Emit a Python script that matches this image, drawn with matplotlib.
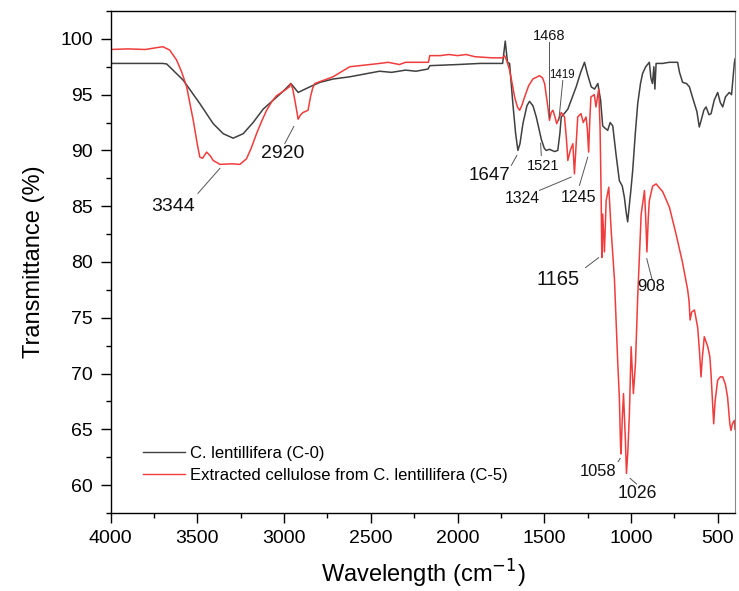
import matplotlib
matplotlib.use("Agg")
import matplotlib.pyplot as plt
from matplotlib.ticker import MultipleLocator

plt.rcParams['font.family'] = ['Liberation Sans', 'DejaVu Sans']

# C. lentillifera (C-0)
c0_wn = [4000, 3900, 3800, 3700, 3677, 3582, 3486, 3409, 3351, 3294, 3236, 3179, 3121, 3063,
         3006, 2961, 2919, 2852, 2794, 2718, 2622, 2450, 2380, 2300, 2240, 2170, 2160, 2000,
         1870, 1740, 1725, 1712, 1700, 1681, 1665, 1652, 1640, 1623, 1600, 1585, 1565, 1546,
         1517, 1500, 1489, 1470, 1440, 1422, 1410, 1402, 1385, 1364, 1340, 1316, 1290, 1268,
         1250, 1229, 1210, 1191, 1175, 1163, 1150, 1134, 1120, 1105, 1085, 1067, 1050, 1038,
         1028, 1019, 1010, 1000, 990, 975, 961, 945, 933, 915, 894, 885, 876, 868, 862, 855,
         817, 780, 740, 731, 720, 702, 680, 663, 640, 620, 606, 590, 580, 567, 550, 538, 520,
         500, 485, 471, 455, 433, 420, 404, 400]
c0_t = [97.8, 97.8, 97.8, 97.8, 97.75, 96.3, 94.2, 92.4, 91.5, 91.1, 91.5, 92.5, 93.7, 94.5,
        95.3, 96.0, 95.2, 95.7, 96.1, 96.4, 96.6, 97.1, 97.0, 97.2, 97.1, 97.3, 97.6, 97.7,
        97.8, 97.8, 99.8, 97.9, 97.8, 94.2, 91.5, 90.0, 90.6, 92.4, 94.0, 94.4, 94.0, 93.0,
        91.0, 90.2, 90.0, 90.1, 89.9, 90.0, 91.5, 93.0, 93.3, 93.7, 94.7, 95.7, 97.0, 97.9,
        96.8, 95.7, 95.5, 96.0, 94.5, 92.2, 92.0, 91.8, 92.5, 92.2, 89.5, 87.3, 86.8, 85.8,
        84.5, 83.6, 85.0, 86.5, 88.2, 91.5, 94.2, 96.0, 96.9, 97.5, 97.9, 96.5, 96.0, 97.5,
        95.5, 97.8, 97.8, 97.9, 97.9, 97.9, 97.0, 96.1, 96.0, 95.7, 94.5, 93.5, 92.1, 93.0,
        93.6, 93.9, 93.2, 93.3, 94.5, 95.2, 94.3, 93.9, 94.8, 95.2, 95.0, 97.8, 98.2]

# Extracted cellulose from C. lentillifera (C-5)
c5_wn = [4000, 3900, 3800, 3720, 3700, 3660, 3620, 3590, 3562, 3524, 3500, 3486, 3470, 3447,
         3425, 3409, 3370, 3300, 3255, 3217, 3190, 3159, 3130, 3101, 3070, 3044, 2996, 2970,
         2963, 2950, 2938, 2919, 2905, 2891, 2862, 2848, 2835, 2823, 2770, 2718, 2622, 2449,
         2400, 2335, 2300, 2168, 2160, 2100, 2050, 2000, 1950, 1900, 1800, 1740, 1729, 1715,
         1700, 1685, 1671, 1655, 1642, 1630, 1613, 1590, 1566, 1527, 1510, 1498, 1480, 1470,
         1460, 1450, 1438, 1428, 1415, 1402, 1383, 1372, 1364, 1350, 1335, 1326, 1316, 1307,
         1288, 1275, 1259, 1252, 1244, 1238, 1231, 1211, 1202, 1186, 1178, 1172, 1168, 1163,
         1153, 1143, 1128, 1114, 1095, 1076, 1067, 1060, 1057, 1050, 1043, 1032, 1026, 1018,
         1009, 999, 986, 974, 961, 941, 922, 915, 908, 900, 894, 875, 855, 817, 778, 740, 702,
         673, 665, 659, 650, 634, 615, 605, 596, 588, 577, 557, 545, 538, 530, 523, 515, 500,
         485, 471, 455, 443, 430, 423, 415, 404, 400]
c5_t = [99.05, 99.1, 99.05, 99.25, 99.3, 99.0, 98.1, 97.0, 95.7, 92.7, 90.5, 89.4, 89.3, 89.85,
        89.5, 89.1, 88.75, 88.8, 88.75, 89.25, 90.2, 91.5, 92.6, 93.6, 94.4, 94.9, 95.4, 95.7,
        96.0, 95.5, 94.5, 92.8, 93.2, 93.4, 93.6, 94.8, 95.6, 96.0, 96.3, 96.6, 97.5, 97.8,
        97.9, 97.7, 97.9, 97.9, 98.5, 98.5, 98.6, 98.5, 98.6, 98.4, 98.3, 98.3, 98.5, 98.0,
        97.2, 96.0, 94.8, 93.9, 93.6, 94.0, 94.8, 95.8, 96.4, 96.7, 96.5, 96.0, 94.0, 92.7,
        93.4, 93.6, 93.0, 92.4, 92.9, 93.4, 93.0, 91.0, 89.1, 90.0, 90.6, 87.9, 90.5, 93.0,
        93.3, 92.5, 93.0, 92.0, 89.85, 92.5, 94.8, 95.0, 93.9, 95.5, 92.0, 86.0, 80.4, 84.3,
        80.9, 85.5, 86.7, 82.8, 78.4, 70.9, 67.9, 63.5, 62.8, 66.0, 68.2, 64.0, 61.05, 63.0,
        66.4, 72.4, 68.2, 70.9, 76.9, 84.3, 86.4, 84.0, 80.9, 84.0, 85.5, 86.8, 87.0, 86.3,
        84.9, 82.5, 79.9, 77.5, 76.5, 74.8, 75.5, 75.7, 74.1, 72.0, 69.7, 71.5, 73.3, 72.4,
        71.5, 69.9, 67.5, 65.5, 67.5, 69.4, 69.7, 69.7, 69.0, 67.9, 65.5, 64.9, 65.5, 65.8, 65.0]

labels = ["C. lentillifera (C-0)", "Extracted cellulose from C. lentillifera (C-5)"]

# peak annotations: label, text (wn, T), leader start, leader end, fontsize
peak_labels = ["3344", "2920", "1647", "1521", "1468", "1419", "1324", "1245", "1165", "908", "1058", "1026"]
peak_text_xy = [(3641, 85.0), (3006, 89.76), (1813, 87.76), (1508, 88.6), (1470, 100.3),
                (1396, 96.78), (1627, 85.68), (1301, 85.82), (1420, 78.47), (882, 77.8),
                (1187, 61.2), (963, 59.23)]
peak_line_from = [(3497, 86.15), (2996, 90.63), (1690, 88.66), (1517, 89.55), (1470, 99.7),
                  (1393, 96.27), (1527, 86.42), (1297, 86.87), (1262, 79.5), (878, 78.42),
                  (1074, 62.1), (1005, 60.6)]
peak_line_to = [(3370, 88.4), (2944, 92.15), (1658, 89.55), (1521, 90.65), (1470, 92.98),
                (1416, 92.69), (1345, 87.61), (1249, 89.4), (1186, 80.39), (909, 80.3),
                (1062, 62.4), (967, 60.1)]
peak_fs = [14, 14, 13.5, 10.5, 10.5, 8.3, 11.3, 11.5, 14.5, 12, 11.9, 12.7]

fig = plt.figure(figsize=(7.39, 5.91), dpi=100)
ax = fig.add_axes([0.1498, 0.132, 0.8448, 0.8494])

ax.plot(c0_wn, c0_t, color='#404040', lw=1.1, label=labels[0])
ax.plot(c5_wn, c5_t, color='#f03c3c', lw=1.1, label=labels[1])

for lab, txy, lf, lt, fs in zip(peak_labels, peak_text_xy, peak_line_from, peak_line_to, peak_fs):
    ax.text(txy[0], txy[1], lab, fontsize=fs, ha='center', va='center', color='#111111')
    ax.plot([lf[0], lt[0]], [lf[1], lt[1]], color='#555555', lw=0.7)

ax.set_xlim(4000, 400)
ax.set_ylim(57.5, 102.5)
ax.xaxis.set_major_locator(MultipleLocator(500))
ax.xaxis.set_minor_locator(MultipleLocator(250))
ax.yaxis.set_major_locator(MultipleLocator(5))
ax.yaxis.set_minor_locator(MultipleLocator(2.5))
ax.tick_params(which='major', direction='out', length=7, width=1.0, labelsize=14, pad=5)
ax.tick_params(which='minor', direction='out', length=3.6, width=1.0)
ax.tick_params(axis='y', which='major', pad=6)
for side in ['left', 'bottom', 'top']:
    ax.spines[side].set_linewidth(1.0)
ax.spines['right'].set_color('#888888')

ax.set_xlabel("Wavelength (cm$^{-1}$)", fontsize=17, labelpad=8)
ax.set_ylabel("Transmittance (%)", fontsize=17, labelpad=11)

leg = ax.legend(loc='upper left', bbox_to_anchor=(0.0517, 0.133), frameon=False,
                fontsize=12, handlelength=2.5, handletextpad=0.3, labelspacing=0.42,
                borderpad=0, borderaxespad=0)
for h in leg.get_lines():
    h.set_linewidth(1.0)

fig.savefig("out.png", dpi=100)
